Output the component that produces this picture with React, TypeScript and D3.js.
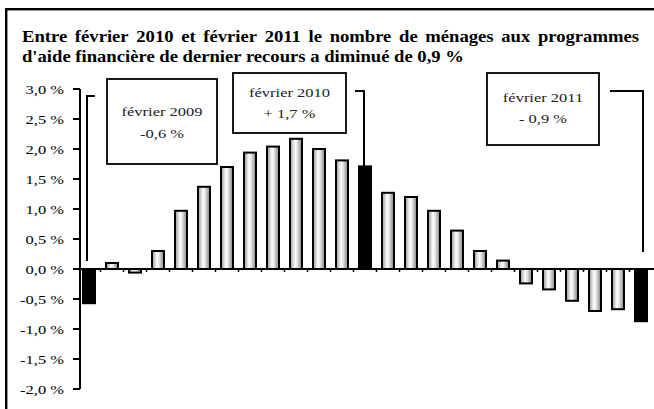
import React, { useLayoutEffect, useRef, useState } from "react";
import * as d3 from "d3";

const months = [
  "2009-02","2009-03","2009-04","2009-05","2009-06","2009-07","2009-08","2009-09","2009-10","2009-11","2009-12",
  "2010-01","2010-02","2010-03","2010-04","2010-05","2010-06","2010-07","2010-08","2010-09","2010-10","2010-11","2010-12",
  "2011-01","2011-02",
];
const values = [
  -0.57, 0.1, -0.06, 0.3, 0.97, 1.37, 1.7, 1.94, 2.04, 2.17, 2.0, 1.81, 1.71,
  1.27, 1.2, 0.97, 0.64, 0.3, 0.14, -0.24, -0.34, -0.53, -0.7, -0.67, -0.87,
];
const highlighted = ["2009-02", "2010-02", "2011-02"];
const yTicks = [-2, -1.5, -1, -0.5, 0, 0.5, 1, 1.5, 2, 2.5, 3];
const titleLine1 = "Entre février 2010 et février 2011 le nombre de ménages aux programmes";
const titleLine2 = "d'aide financière de dernier recours a diminué de 0,9 %";
const noteLabels = ["février 2009", "février 2010", "février 2011"];
const noteValues = ["-0,6 %", "+ 1,7 %", "- 0,9 %"];

const W = 654;
const H = 409;
const FONT = "Liberation Serif";
const SX = 1.22;

const fmt = (v: number) => v.toFixed(1).replace(".", ",") + " %";

export default function App() {
  const x = d3.scaleBand<string>().domain(months).range([77.5, 652.5]).padding(0);
  const y = d3.scaleLinear().domain([-2, 3]).range([389, 89]);
  const step = x.step();
  const barW = 12;

  const words = titleLine1.split(" ");
  const wordRefs = useRef<(SVGTextElement | null)[]>([]);
  const line2Ref = useRef<SVGTextElement | null>(null);
  const [fit, setFit] = useState<{ k: number; xs: number[] }>({
    k: 1.1,
    xs: words.map((_, i) => i * 60),
  });

  useLayoutEffect(() => {
    const w2 = line2Ref.current ? line2Ref.current.getComputedTextLength() : 400;
    const k = 442 / w2;
    const widths = wordRefs.current.map((r) => (r ? r.getComputedTextLength() : 30));
    const total = widths.reduce((a, b) => a + b, 0);
    const avail = 617 / k;
    const gap = (avail - total) / (words.length - 1);
    const xs: number[] = [];
    let acc = 0;
    widths.forEach((w) => {
      xs.push(acc);
      acc += w + gap;
    });
    setFit({ k, xs });
  }, []);

  const notes = [
    { box: [107, 79, 217, 164], cx: 162, b1: 116, b2: 138 },
    { box: [233, 73, 346, 133], cx: 289.5, b1: 97, b2: 118 },
    { box: [487, 73, 599, 145], cx: 543, b1: 102, b2: 123 },
  ];

  const cx = (m: string) => (x(m) as number) + step / 2;
  const i0 = months.indexOf(highlighted[0]);
  const i1 = months.indexOf(highlighted[1]);
  const i2 = months.indexOf(highlighted[2]);
  const lx0 = cx(months[i0]) - 2;
  const lx1 = cx(months[i1]) - 1;
  const lx2 = cx(months[i2]) + 2;

  return (
    <svg
      width={W}
      height={H}
      style={{ position: "absolute", left: 0, top: 0, background: "#fff" }}
      fontFamily={FONT}
    >
      <defs>
        <linearGradient id="barGrad" x1="0" x2="1" y1="0" y2="0">
          <stop offset="0" stopColor="#9a9a9a" />
          <stop offset="0.22" stopColor="#cacaca" />
          <stop offset="0.42" stopColor="#ffffff" />
          <stop offset="0.6" stopColor="#e4e4e4" />
          <stop offset="0.85" stopColor="#a4a4a4" />
          <stop offset="1" stopColor="#8a8a8a" />
        </linearGradient>
      </defs>
      <rect x={0} y={0} width={W} height={H} fill="#fff" />
      {/* frame */}
      <rect x={6.2} y={9.2} width={760} height={520} fill="none" stroke="#000" strokeWidth={2.4} />

      {/* title */}
      <g transform={`translate(22,42) scale(${fit.k},1)`} fontWeight="bold" fontSize={17} fill="#000">
        {words.map((w, i) => (
          <text key={i} x={fit.xs[i]} y={0} ref={(el) => { wordRefs.current[i] = el; }}>
            {w}
          </text>
        ))}
      </g>
      <g transform={`translate(22,62) scale(${fit.k},1)`} fontWeight="bold" fontSize={17} fill="#000">
        <text ref={line2Ref} x={0} y={0}>{titleLine2}</text>
      </g>

      {/* y axis */}
      <line x1={80} x2={80} y1={y(3)} y2={y(-2)} stroke="#000" strokeWidth={2} />
      {yTicks.map((t) => (
        <g key={t}>
          <line x1={73} x2={80} y1={y(t)} y2={y(t)} stroke="#000" strokeWidth={2} />
          <text
            transform={`translate(64,${y(t) + 4.7}) scale(${SX},1)`}
            textAnchor="end"
            fontSize={13.5}
            fill="#000"
          >
            {fmt(t)}
          </text>
        </g>
      ))}

      {/* bars */}
      {months.map((m, i) => {
        const v = values[i];
        const hl = highlighted.includes(m);
        const y0 = y(0);
        const yv = y(v);
        return (
          <rect
            key={m}
            x={(x(m) as number) + (step - barW) / 2}
            y={Math.min(y0, yv)}
            width={barW}
            height={Math.abs(yv - y0)}
            fill={hl ? "#000" : "url(#barGrad)"}
            stroke="#000"
            strokeWidth={2}
          />
        );
      })}

      {/* x axis */}
      <line x1={73} x2={W} y1={y(0)} y2={y(0)} stroke="#000" strokeWidth={2} />
      {months.map((m, i) =>
        i === 0 ? null : (
          <line
            key={"t" + m}
            x1={x(m) as number}
            x2={x(m) as number}
            y1={y(0)}
            y2={y(0) + 3}
            stroke="#000"
            strokeWidth={1.5}
          />
        )
      )}

      {/* leader lines */}
      <path d={`M${lx0 + 8},96 H${lx0} V261`} fill="none" stroke="#000" strokeWidth={2} />
      <path d={`M${lx1 - 9},91 H${lx1} V${y(values[i1])}`} fill="none" stroke="#000" strokeWidth={2} />
      <path d={`M${lx2 - 33},91 H${lx2} V252`} fill="none" stroke="#000" strokeWidth={2} />

      {/* notes */}
      {notes.map((n, i) => (
        <g key={i}>
          <rect
            x={n.box[0]}
            y={n.box[1]}
            width={n.box[2] - n.box[0]}
            height={n.box[3] - n.box[1]}
            fill="#fff"
            stroke="#000"
            strokeWidth={1.8}
          />
          <text
            transform={`translate(${n.cx},${n.b1}) scale(${SX},1)`}
            textAnchor="middle"
            fontSize={13.5}
            fill="#222"
          >
            {noteLabels[i]}
          </text>
          <text
            transform={`translate(${n.cx},${n.b2}) scale(${SX},1)`}
            textAnchor="middle"
            fontSize={13.5}
            fill="#222"
          >
            {noteValues[i]}
          </text>
        </g>
      ))}
    </svg>
  );
}
